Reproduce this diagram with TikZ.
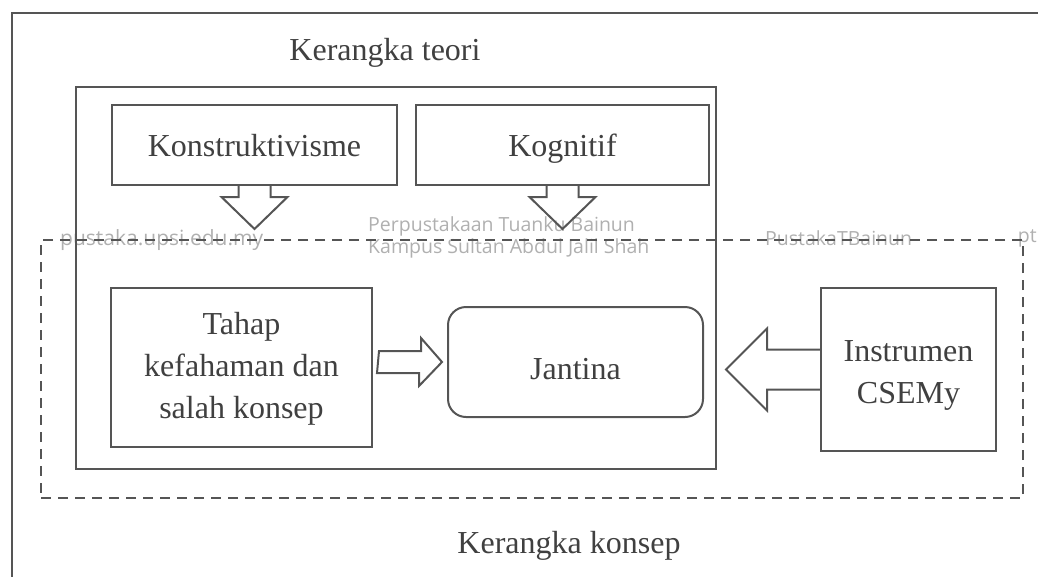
\documentclass[tikz,border=0pt]{standalone}
\usepackage{fontspec}
\setmainfont{Liberation Serif}
\newfontfamily\wmfont{Open Sans}
\usetikzlibrary{calc}
\definecolor{linegray}{HTML}{555555}
\definecolor{textgray}{HTML}{404040}
\definecolor{wmgray}{HTML}{B0B0B0}
\tikzset{
BOX/.style ={draw=linegray,line width=2pt,text=textgray,align=center,inner sep=0pt,text depth=0pt,font=\fontsize{32}{42}\selectfont},
FRAME/.style ={draw=linegray,line width=2.2pt,line join=miter},
DASHBOX/.style ={draw=linegray,line width=2pt,dash pattern=on 10pt off 7pt,inner sep=0pt},
BLOCKARROW/.style ={draw=linegray,line width=2pt,line join=miter,miter limit=10},
LABEL/.style ={text=textgray,inner sep=0pt,font=\fontsize{32}{42}\selectfont},
WATERMARK/.style ={text=wmgray,inner sep=0pt,anchor=west,align=left,font=\wmfont\fontsize{#1}{22}\selectfont},
WATERMARK/.default = 19.5,
}
\begin{document}
\begin{tikzpicture}[x=1pt,y=-1pt]
	\useasboundingbox (0,0) rectangle (1038,576);
	\clip (0,0) rectangle (1038,576);
	\node[WATERMARK=21] (wmweb) at (60,240) {pustaka.upsi.edu.my};
	\node[WATERMARK] (wmfb) at (368,237) {Perpustakaan Tuanku Bainun\\Kampus Sultan Abdul Jalil Shah};
	\node[WATERMARK] (wmtw) at (765,238) {PustakaTBainun};
	\node[WATERMARK,anchor=east] (wmig) at (1037,238) {pt};
	\draw[FRAME] (1060,13) -- (12,13) -- (12,600);
	\node[LABEL] (teorilabel) at (385,53) {Kerangka teori};
	\node[BOX,minimum width=640pt,minimum height=382pt] (teori) at (396,278) {};
	\node[DASHBOX,minimum width=982pt,minimum height=258pt] (konsep) at (532,369) {};
	\node[LABEL] (konseplabel) at (569,546) {Kerangka konsep};
	\node[BOX,text height=22pt,minimum width=285pt,minimum height=80pt] (konstrukt) at (254.5,145) {Konstruktivisme};
	\node[BOX,text height=22pt,minimum width=293pt,minimum height=80pt] (kognitif) at (562.5,145) {Kognitif};
	\node[BOX,text height=101pt,minimum width=261pt,minimum height=159pt] (tahap) at (241.5,367.5) {Tahap\\kefahaman dan\\salah konsep};
	\node[BOX,text height=34pt,rounded corners=18pt,minimum width=255pt,minimum height=110pt] (jantina) at (575.5,362) {Jantina};
	\node[BOX,text height=67pt,minimum width=175pt,minimum height=163pt] (instrumen) at (908.5,369.5) {Instrumen\\CSEMy};
	\draw[BLOCKARROW] (konstrukt.south) ++(-16,0) -- ++(0,11) -- ++(-17,0) -- ++(33,32) -- ++(33,-32) -- ++(-17,0) -- ++(0,-11);
	\draw[BLOCKARROW] (kognitif.south) ++(-16,0) -- ++(0,11) -- ++(-17,0) -- ++(33,32) -- ++(33,-32) -- ++(-17,0) -- ++(0,-11);
	\draw[BLOCKARROW] ($(tahap.east |- jantina.west)+(6,-11)$) -- ++(42,0) -- ++(0,-13) -- ($(jantina.west)+(-5,0)$) -- ++(-23,24) -- ++(0,-13) -- ++(-42,0) -- cycle;
	\draw[BLOCKARROW] ($(instrumen.west)+(0,-20)$) -- ++(-53,0) -- ++(0,-21) -- ++(-41,41) -- ++(41,41) -- ++(0,-21) -- ++(53,0);
\end{tikzpicture}
\end{document}
